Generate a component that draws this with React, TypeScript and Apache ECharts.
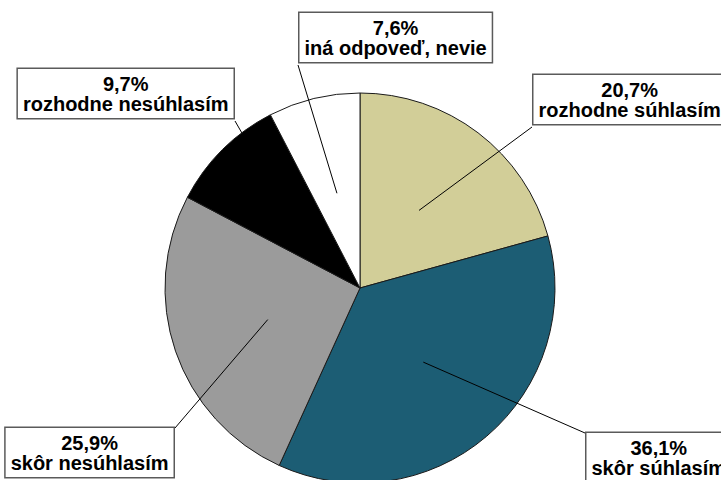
import React, { useEffect, useRef } from "react";
import * as echarts from "echarts";

// ---- data ----
const categories = [
  "rozhodne súhlasím",
  "skôr súhlasím",
  "skôr nesúhlasím",
  "rozhodne nesúhlasím",
  "iná odpoveď, nevie",
];
const values = [20.7, 36.1, 25.9, 9.7, 7.6];
const colors = ["#D2CE98", "#1C5D74", "#9B9B9B", "#000000", "#FFFFFF"];

// ---- label box placement (layout only) ----
// side: which edge is anchored ("l" = left edge given, "r" = right edge given)
// corner: where the leader line meets the box
const boxEdgeX = [532, 585, 175, 235, 298];
const boxSide = ["l", "l", "r", "r", "l"];
const boxTop = [75, 433, 428, 69, 13];
const boxCorner = ["bl", "tl", "tr", "br", "bl"];

export default function App() {
  const ref = useRef<HTMLDivElement>(null);

  useEffect(() => {
    if (!ref.current) return;
    const chart = echarts.init(ref.current, undefined, { renderer: "svg" });
    const data = categories.map((name, i) => ({
      name,
      value: values[i],
      itemStyle: { color: colors[i] },
    }));
    const center = [360, 288];

    chart.setOption({
      animation: false,
      textStyle: { fontFamily: "Liberation Sans, Arial, sans-serif" },
      series: [
        {
          type: "pie",
          z: 1,
          center,
          radius: 195,
          startAngle: 90,
          clockwise: true,
          silent: true,
          avoidLabelOverlap: false,
          label: { show: false },
          labelLine: { show: false },
          itemStyle: { borderColor: "#1a1a1a", borderWidth: 1 },
          emphasis: { disabled: true },
          data,
        },
        {
          type: "pie",
          z: 5,
          center,
          radius: 97.5,
          startAngle: 90,
          clockwise: true,
          silent: true,
          avoidLabelOverlap: false,
          itemStyle: { color: "rgba(0,0,0,0)", borderWidth: 0 },
          emphasis: { disabled: true },
          data: categories.map((name, i) => ({ name, value: values[i] })),
          label: {
            show: true,
            position: "outside",
            formatter: (p: any) =>
              p.value.toFixed(1).replace(".", ",") + "%\n" + p.name,
            color: "#000",
            fontSize: 20,
            fontWeight: "bold",
            fontFamily: "Liberation Sans, Arial, sans-serif",
            lineHeight: 20,
            backgroundColor: "#fff",
            borderColor: "#5a5a5a",
            borderWidth: 1.5,
            padding: [5, 5, 4, 5],
            align: "center",
          },
          labelLine: {
            show: true,
            length: 8,
            length2: 8,
            lineStyle: { color: "#000", width: 1 },
          },
          labelLayout: (params: any) => {
            const i = params.dataIndex;
            const w = params.labelRect.width;
            const h = params.labelRect.height;
            const left = boxSide[i] === "l" ? boxEdgeX[i] : boxEdgeX[i] - w;
            const top = boxTop[i];
            const c = boxCorner[i];
            const cx = c[1] === "l" ? left : left + w;
            const cy = c[0] === "t" ? top : top + h;
            const p0 = params.labelLinePoints
              ? params.labelLinePoints[0]
              : [cx, cy];
            return {
              x: left + w / 2,
              y: top,
              align: "center",
              verticalAlign: "top",
              labelLinePoints: [p0, [cx, cy], [cx, cy]],
            };
          },
        },
      ],
    });
    return () => chart.dispose();
  }, []);

  return (
    <div
      ref={ref}
      style={{ position: "absolute", left: 0, top: 0, width: 721, height: 480 }}
    />
  );
}
